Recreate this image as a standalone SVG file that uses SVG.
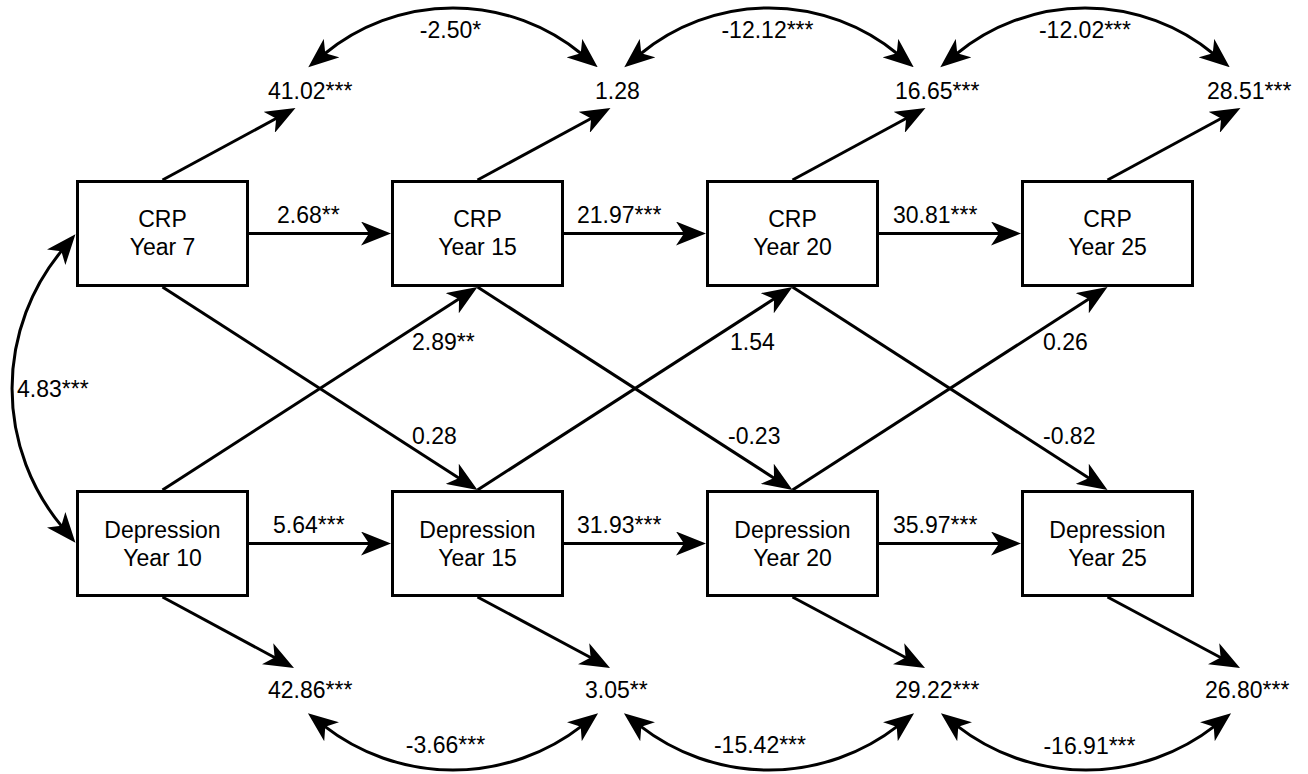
<svg xmlns="http://www.w3.org/2000/svg" width="1308" height="774" viewBox="0 0 1308 774">
<style>
  text { font-family: "Liberation Sans", Arial, sans-serif; font-size: 23px; fill: #000; }
  .box { fill: #fff; stroke: #000; stroke-width: 3; }
  .c { text-anchor: middle; }
  .edge { fill: none; stroke: #000; stroke-width: 3; marker-end: url(#ah); }
  .bi { fill: none; stroke: #000; stroke-width: 3; marker-start: url(#ah); marker-end: url(#ah); }
</style>
<defs>
  <marker id="ah" markerUnits="userSpaceOnUse" markerWidth="30" markerHeight="24" viewBox="0 0 30 24" refX="10" refY="12" orient="auto-start-reverse">
    <path d="M0,0 L30,12 L0,24 L8,12 Z" fill="#000"/>
  </marker>
</defs>
<rect width="1308" height="774" fill="#fff"/>

<g id="connectors">
  <!-- autoregressive CRP -->
  <path class="edge" d="M249,233.5 L371,233.5"/>
  <path class="edge" d="M564,233.5 L686,233.5"/>
  <path class="edge" d="M879,233.5 L1001,233.5"/>
  <!-- autoregressive Depression -->
  <path class="edge" d="M249,543.5 L371,543.5"/>
  <path class="edge" d="M564,543.5 L686,543.5"/>
  <path class="edge" d="M879,543.5 L1001,543.5"/>
  <!-- CRP residual arrows -->
  <path class="edge" d="M162.5,180 L277.9,117.5"/>
  <path class="edge" d="M477.5,180 L592.9,117.5"/>
  <path class="edge" d="M792.5,180 L907.9,117.5"/>
  <path class="edge" d="M1107.5,180 L1222.9,117.5"/>
  <!-- Depression residual arrows -->
  <path class="edge" d="M162.5,597 L276.4,658.5"/>
  <path class="edge" d="M477.5,597 L592.4,658.5"/>
  <path class="edge" d="M792.5,597 L907.4,658.5"/>
  <path class="edge" d="M1107.5,597 L1222.4,658.5"/>
  <!-- cross-lagged CRP -> Depression -->
  <path class="edge" d="M162.5,287 L460.7,479.2"/>
  <path class="edge" d="M477.5,287 L775.7,479.2"/>
  <path class="edge" d="M792.5,287 L1090.7,479.2"/>
  <!-- cross-lagged Depression -> CRP -->
  <path class="edge" d="M162.5,490 L460.7,297.8"/>
  <path class="edge" d="M477.5,490 L775.7,297.8"/>
  <path class="edge" d="M792.5,490 L1090.7,297.8"/>
  <!-- covariances top -->
  <path class="bi" d="M323.7,54.5 A202.8,202.8 0 0 1 582.3,54.5"/>
  <path class="bi" d="M639.7,54.5 A202.8,202.8 0 0 1 898.3,54.5"/>
  <path class="bi" d="M955.7,54.5 A202.8,202.8 0 0 1 1214.3,54.5"/>
  <!-- covariances bottom -->
  <path class="bi" d="M323.7,725.6 A210.3,210.3 0 0 0 582.3,725.6"/>
  <path class="bi" d="M639.7,725.6 A210.3,210.3 0 0 0 898.3,725.6"/>
  <path class="bi" d="M956.7,725.6 A210.3,210.3 0 0 0 1215.3,725.6"/>
  <!-- baseline covariance -->
  <path class="bi" d="M62.6,249.6 A216.1,216.1 0 0 0 62.6,527.4"/>

  <!-- edge labels -->
  <text x="277" y="223">2.68**</text>
  <text x="577" y="223">21.97***</text>
  <text x="893" y="223">30.81***</text>
  <text x="273" y="533">5.64***</text>
  <text x="577" y="533">31.93***</text>
  <text x="893" y="533">35.97***</text>
  <text x="412" y="350">2.89**</text>
  <text x="730" y="350">1.54</text>
  <text x="1043" y="350">0.26</text>
  <text x="412" y="444">0.28</text>
  <text x="728" y="444">-0.23</text>
  <text x="1043" y="444">-0.82</text>
  <text class="c" x="450.5" y="38">-2.50*</text>
  <text class="c" x="767.5" y="38">-12.12***</text>
  <text class="c" x="1085" y="38">-12.02***</text>
  <text class="c" x="445.5" y="753">-3.66***</text>
  <text class="c" x="760" y="753">-15.42***</text>
  <text class="c" x="1089.5" y="754">-16.91***</text>
  <text x="17" y="397">4.83***</text>
</g>

<g id="var-crp7"><text x="268" y="99">41.02***</text></g>
<g id="var-crp15"><text x="595" y="99">1.28</text></g>
<g id="var-crp20"><text x="895" y="99">16.65***</text></g>
<g id="var-crp25"><text x="1207" y="99">28.51***</text></g>
<g id="var-dep10"><text x="268" y="698">42.86***</text></g>
<g id="var-dep15"><text x="585" y="698">3.05**</text></g>
<g id="var-dep20"><text x="895" y="698">29.22***</text></g>
<g id="var-dep25"><text x="1205" y="698">26.80***</text></g>

<g id="crp7">
  <rect class="box" x="77.5" y="181.5" width="170" height="104"/>
  <text class="c" x="162.5" y="227">CRP</text>
  <text class="c" x="162.5" y="255">Year 7</text>
</g>
<g id="crp15">
  <rect class="box" x="392.5" y="181.5" width="170" height="104"/>
  <text class="c" x="477.5" y="227">CRP</text>
  <text class="c" x="477.5" y="255">Year 15</text>
</g>
<g id="crp20">
  <rect class="box" x="707.5" y="181.5" width="170" height="104"/>
  <text class="c" x="792.5" y="227">CRP</text>
  <text class="c" x="792.5" y="255">Year 20</text>
</g>
<g id="crp25">
  <rect class="box" x="1022.5" y="181.5" width="170" height="104"/>
  <text class="c" x="1107.5" y="227">CRP</text>
  <text class="c" x="1107.5" y="255">Year 25</text>
</g>
<g id="dep10">
  <rect class="box" x="77.5" y="491.5" width="170" height="104"/>
  <text class="c" x="162.5" y="538">Depression</text>
  <text class="c" x="162.5" y="566">Year 10</text>
</g>
<g id="dep15">
  <rect class="box" x="392.5" y="491.5" width="170" height="104"/>
  <text class="c" x="477.5" y="538">Depression</text>
  <text class="c" x="477.5" y="566">Year 15</text>
</g>
<g id="dep20">
  <rect class="box" x="707.5" y="491.5" width="170" height="104"/>
  <text class="c" x="792.5" y="538">Depression</text>
  <text class="c" x="792.5" y="566">Year 20</text>
</g>
<g id="dep25">
  <rect class="box" x="1022.5" y="491.5" width="170" height="104"/>
  <text class="c" x="1107.5" y="538">Depression</text>
  <text class="c" x="1107.5" y="566">Year 25</text>
</g>
</svg>
